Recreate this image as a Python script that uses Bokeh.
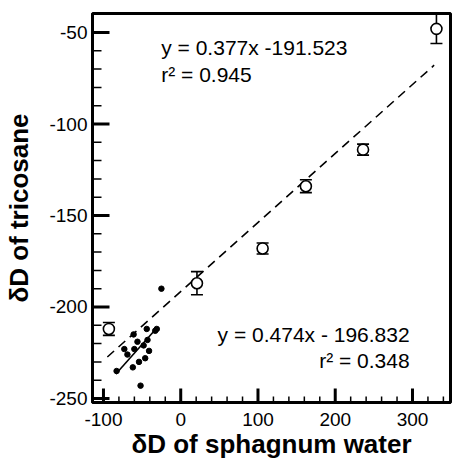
from bokeh.plotting import figure
from bokeh.models import ColumnDataSource, Whisker, TeeHead, Label, Range1d, FixedTicker, CustomJSTickFormatter
from bokeh.embed import file_html
from bokeh.resources import INLINE

# Open circles (sphagnum water vs tricosane), with error
open_x = [-93, 21, 106, 162, 236, 331]
open_y = [-212, -187, -168, -134, -114, -48]
open_err = [3.5, 6.3, 3.0, 3.5, 3.0, 8.0]

# Filled dots
dot_x = [-83, -61, -44, -33, -56, -43, -73, -69, -60, -48, -41, -62, -54, -46, -52, -25, -31]
dot_y = [-235, -215, -212, -213, -219, -218, -223, -226, -223, -221, -224, -233, -230, -228, -243, -190, -212]

# Regressions
fit1_slope, fit1_icpt = 0.377, -191.523
fit1_xrange = [-95, 328]
fit2_slope, fit2_icpt = 0.474, -196.832
fit2_xrange = [-84, -31]

x_ticks = [-100, 0, 100, 200, 300]
x_minor = [v for v in range(-100, 341, 20) if v not in x_ticks]
y_ticks = [-250, -200, -150, -100, -50]
y_minor = [v for v in range(-250, -39, 10) if v not in y_ticks]

X0, X1 = -114.2, 349.2
Y0, Y1 = -252.2, -39.6
FW, FH = 358, 389
XPX = (X1 - X0) / FW   # data units per pixel
YPX = (Y1 - Y0) / FH

FONT = "Liberation Sans"

p = figure(frame_width=FW, frame_height=FH, output_backend="svg", toolbar_location=None,
           x_range=Range1d(X0, X1), y_range=Range1d(Y0, Y1),
           min_border_left=92, min_border_top=13, min_border_bottom=45, min_border_right=2)
p.background_fill_color = "white"
p.border_fill_color = "white"
p.outline_line_color = "black"
p.outline_line_width = 3
p.grid.visible = False

for ax in (p.xaxis[0], p.yaxis[0]):
    ax.axis_line_width = 3
    ax.major_tick_line_color = None
    ax.minor_tick_line_color = None
    ax.major_tick_in = 0
    ax.major_tick_out = 0
    ax.minor_tick_in = 0
    ax.minor_tick_out = 0
    ax.major_label_text_font = FONT
    ax.major_label_text_font_size = "19px"
    ax.major_label_text_color = "black"
    ax.axis_label_text_font = FONT
    ax.axis_label_text_font_size = "26px"
    ax.axis_label_text_font_style = "bold"
    ax.axis_label_text_color = "black"
    ax.formatter = CustomJSTickFormatter(code="return tick.toString();")

p.xaxis.ticker = FixedTicker(ticks=x_ticks)
p.yaxis.ticker = FixedTicker(ticks=y_ticks)
p.xaxis.axis_label = "δD of sphagnum water"
p.yaxis.axis_label = "δD of tricosane"
p.xaxis.major_label_standoff = 10
p.yaxis.major_label_standoff = 5
p.xaxis.axis_label_standoff = 0
p.yaxis.axis_label_standoff = 12

# inward ticks
p.segment(x0=[X0] * len(y_ticks), y0=y_ticks, x1=[X0 + 17 * XPX] * len(y_ticks), y1=y_ticks,
          line_width=3, line_color="black")
p.segment(x0=[X0] * len(y_minor), y0=y_minor, x1=[X0 + 9 * XPX] * len(y_minor), y1=y_minor,
          line_width=1.5, line_color="black")
p.segment(x0=x_ticks, y0=[Y0] * len(x_ticks), x1=x_ticks, y1=[Y0 + 14 * YPX] * len(x_ticks),
          line_width=3, line_color="black")
p.segment(x0=x_minor, y0=[Y0] * len(x_minor), x1=x_minor, y1=[Y0 + 6 * YPX] * len(x_minor),
          line_width=1.5, line_color="black")

# regression lines
p.line([fit1_xrange[0], fit1_xrange[1]],
       [fit1_slope * fit1_xrange[0] + fit1_icpt, fit1_slope * fit1_xrange[1] + fit1_icpt],
       line_color="black", line_width=1.6, line_dash="9 6")
p.line([fit2_xrange[0], fit2_xrange[1]],
       [fit2_slope * fit2_xrange[0] + fit2_icpt, fit2_slope * fit2_xrange[1] + fit2_icpt],
       line_color="black", line_width=1.6)

# filled dots
p.scatter(dot_x, dot_y, size=5.5, color="black")

# open circles with error bars
src = ColumnDataSource(dict(x=open_x, y=open_y,
                            lo=[y - e for y, e in zip(open_y, open_err)],
                            hi=[y + e for y, e in zip(open_y, open_err)]))
w = Whisker(source=src, base="x", upper="hi", lower="lo", line_width=1.6, line_color="black",
            upper_head=TeeHead(size=12, line_width=1.6, line_color="black"),
            lower_head=TeeHead(size=12, line_width=1.6, line_color="black"))
p.add_layout(w)
p.scatter("x", "y", source=src, size=11, fill_color="white", line_color="black", line_width=1.6)

# annotations
p.add_layout(Label(x=-25.2, y=-58.4, text="y = 0.377x -191.523", text_font=FONT, text_font_size="21px",
                   text_baseline="middle", text_color="black"))
p.add_layout(Label(x=-25.2, y=-73.1, text="r² = 0.945", text_font=FONT, text_font_size="21px",
                   text_baseline="middle", text_color="black"))
p.add_layout(Label(x=296.3, y=-214.9, text="y = 0.474x - 196.832", text_font=FONT, text_font_size="21px",
                   text_baseline="middle", text_align="right", text_color="black"))
p.add_layout(Label(x=296.3, y=-229.1, text="r² = 0.348", text_font=FONT, text_font_size="21px",
                   text_baseline="middle", text_align="right", text_color="black"))

open("out.html", "w").write(file_html(p, INLINE))
